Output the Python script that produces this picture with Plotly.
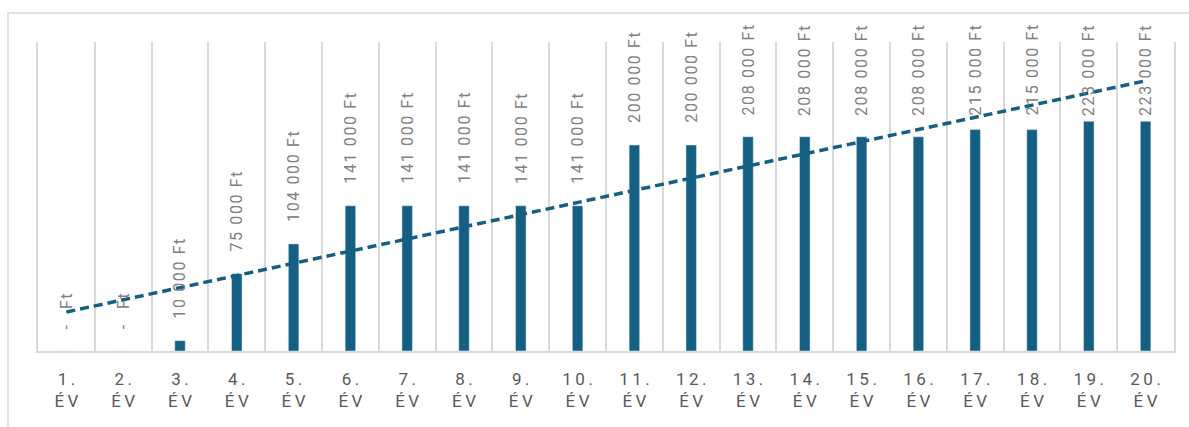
import numpy as np
import plotly.graph_objects as go

# Yearly amounts (Ft) for years 1..20
years = list(range(1, 21))
amounts = [0, 0, 10000, 75000, 104000,
           141000, 141000, 141000, 141000, 141000,
           200000, 200000, 208000, 208000, 208000,
           208000, 215000, 215000, 223000, 223000]
categories = [f"{y}.<br>ÉV" for y in years]

BAR_COLOR = "#156082"
LABEL_COLOR = "#808080"
AXIS_TEXT = "#595959"
GRID = "#d9d9d9"
HS = "\u200a"  # hair space used for letter spacing
TS = "\u2009"  # thin space for the axis labels


def spaced(s, sep=HS):
    return sep.join(s)


def money(v):
    if v == 0:
        return spaced("-") + "\u00a0\u00a0\u00a0\u00a0" + spaced("Ft")
    return spaced(f"{v:,}".replace(",", "\u00a0") + "\u00a0Ft")


tick_text = [spaced(f"{y}.", TS) + "<br>" + spaced("ÉV", TS) for y in years]

# Linear trend over the yearly amounts
slope, intercept = np.polyfit(years, amounts, 1)
trend = [slope * y + intercept for y in years]

fig = go.Figure()
fig.add_trace(go.Bar(x=categories, y=amounts, marker_color=BAR_COLOR,
                     width=0.185, showlegend=False, hoverinfo="skip"))
fig.add_trace(go.Scatter(x=categories, y=trend, mode="lines",
                         line=dict(color=BAR_COLOR, width=3.5, dash="9px,5px"),
                         showlegend=False, hoverinfo="skip"))

# Value labels, rotated, kept inside the chart area near the top
LABEL_CEILING = 206800
for c, v in zip(categories, amounts):
    fig.add_annotation(x=c, y=min(v, LABEL_CEILING), text=money(v),
                       textangle=-90, showarrow=False, xanchor="center",
                       yanchor="bottom", yshift=20,
                       font=dict(family="Roboto", size=16, color=LABEL_COLOR))

# Outer chart border
fig.add_shape(type="rect", xref="paper", yref="paper",
              x0=-0.0264, x1=1.2, y0=-0.6, y1=1.0939,
              line=dict(color=GRID, width=1.5), layer="below")

fig.update_layout(
    width=1189, height=427,
    margin=dict(l=38, r=15, t=42, b=76),
    paper_bgcolor="white", plot_bgcolor="white",
    bargap=0.8,
    font=dict(family="Roboto", color=AXIS_TEXT),
)
fig.update_xaxes(type="category", tickson="boundaries", showgrid=True,
                 gridcolor=GRID, gridwidth=1.5, showline=True, linecolor=GRID,
                 linewidth=1.5, ticks="", tickmode="array",
                 tickvals=categories, ticktext=tick_text,
                 tickfont=dict(size=17, color=AXIS_TEXT),
                 ticklabelstandoff=12, fixedrange=True)
fig.update_yaxes(range=[0, 300000], showgrid=False, zeroline=False,
                 showticklabels=False, showline=True, mirror=True,
                 linecolor=GRID, linewidth=1.5, fixedrange=True)

fig.write_html("out.html")
